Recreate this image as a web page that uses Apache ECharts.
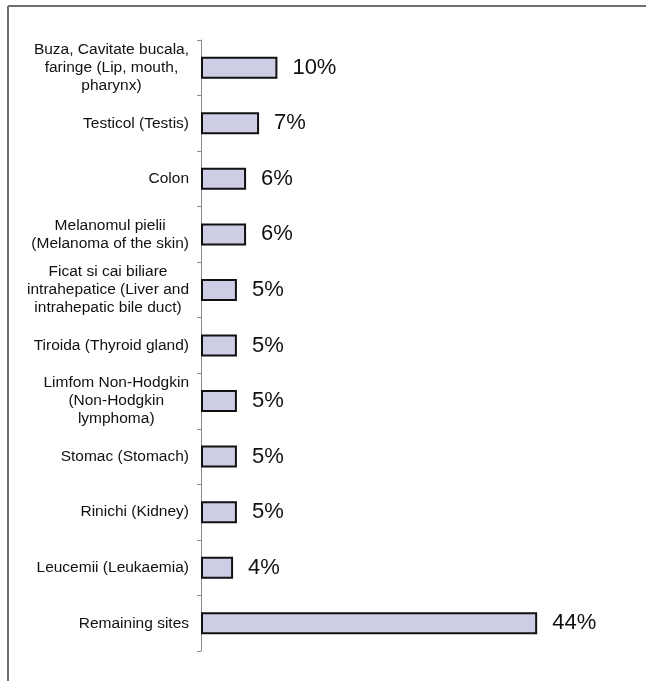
<!DOCTYPE html>
<html>
<head>
<meta charset="utf-8">
<script src="https://cdn.jsdelivr.net/npm/echarts@6/dist/echarts.min.js"></script>
<style>
  html, body { margin: 0; padding: 0; background: #fff; }
  #chart { width: 646px; height: 681px; }
</style>
</head>
<body>
<div id="chart"></div>
<script>
// 부위별 비율 (%)
var categories = [
    'Buza, Cavitate bucala,\nfaringe (Lip, mouth,\npharynx)',
    'Testicol (Testis)',
    'Colon',
    'Melanomul pielii\n(Melanoma of the skin)',
    'Ficat si cai biliare\nintrahepatice (Liver and\nintrahepatic bile duct)',
    'Tiroida (Thyroid gland)',
    'Limfom Non-Hodgkin\n(Non-Hodgkin\nlymphoma)',
    'Stomac (Stomach)',
    'Rinichi (Kidney)',
    'Leucemii (Leukaemia)',
    'Remaining sites'
];
// 막대 길이에서 읽은 값
var percentValues = [10, 7.6, 5.9, 5.9, 4.7, 4.7, 4.7, 4.7, 4.7, 4.2, 44];
// 막대 옆에 표시되는 반올림 라벨
var percentLabels = ['10%', '7%', '6%', '6%', '5%', '5%', '5%', '5%', '5%', '4%', '44%'];

var myChart = echarts.init(document.getElementById('chart'));
var option = {
    backgroundColor: '#fff',
    animation: false,
    textStyle: { fontFamily: 'Liberation Sans, Arial, sans-serif' },
    graphic: [
        // 바깥 테두리 (위, 왼쪽만 보임)
        { type: 'line', shape: { x1: 8, y1: 6, x2: 646, y2: 6 }, style: { stroke: '#6e6e6e', lineWidth: 2 } },
        { type: 'line', shape: { x1: 8, y1: 6, x2: 8, y2: 681 }, style: { stroke: '#6e6e6e', lineWidth: 2 } }
    ],
    grid: {
        left: 201,
        top: 40,
        width: 382,
        height: 611
    },
    xAxis: {
        type: 'value',
        min: 0,
        max: 50,
        show: false
    },
    yAxis: {
        type: 'category',
        inverse: true,
        data: categories,
        axisLine: { show: true, lineStyle: { color: '#8a8a8a', width: 1 } },
        axisTick: { show: true, length: 4, lineStyle: { color: '#8a8a8a' } },
        axisLabel: {
            margin: 12,
            align: 'right',
            formatter: function (v) { return '{a|' + v + '}'; },
            rich: {
                a: {
                    align: 'center',
                    fontSize: 15.5,
                    lineHeight: 18,
                    color: '#111',
                    fontFamily: 'Liberation Sans, Arial, sans-serif'
                }
            }
        },
        splitLine: { show: false }
    },
    series: [{
        type: 'bar',
        data: percentValues,
        barWidth: 22,
        itemStyle: {
            color: '#cdcde6',
            borderColor: '#111',
            borderWidth: 2
        },
        label: {
            show: true,
            position: 'right',
            distance: 15,
            formatter: function (p) { return percentLabels[p.dataIndex]; },
            fontSize: 22,
            color: '#111',
            fontFamily: 'Liberation Sans, Arial, sans-serif'
        }
    }]
}; // option
myChart.setOption(option);
window.addEventListener('resize', myChart.resize);
</script>
</body>
</html>
